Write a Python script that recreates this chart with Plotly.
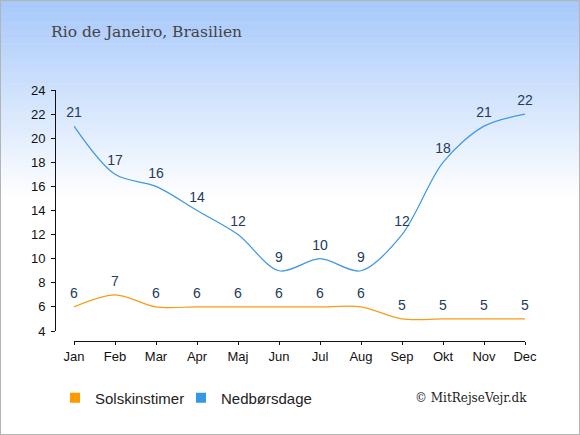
import plotly.graph_objects as go

months = ["Jan", "Feb", "Mar", "Apr", "Maj", "Jun", "Jul", "Aug", "Sep", "Okt", "Nov", "Dec"]
sunshine = [6, 7, 6, 6, 6, 6, 6, 6, 5, 5, 5, 5]
rain_days = [21, 17, 16, 14, 12, 9, 10, 9, 12, 18, 21, 22]
y_ticks = [4, 6, 8, 10, 12, 14, 16, 18, 20, 22, 24]

W, H = 580, 435
ORANGE = "#f79c16"
BLUE = "#3d97e6"
LABEL = "#233a5c"
x_idx = list(range(len(months)))

fig = go.Figure()

for vals, col in ((sunshine, ORANGE), (rain_days, BLUE)):
    fig.add_trace(go.Scatter(
        x=x_idx, y=vals, mode="lines+markers+text", text=[str(v) for v in vals],
        textposition="top center", textfont=dict(family="Liberation Sans, Arial", size=14, color=LABEL),
        line=dict(color=col, width=1.2, shape="spline", smoothing=0.9),
        marker=dict(size=7, opacity=0),
        showlegend=False, hoverinfo="skip", cliponaxis=False))

# legend entries
fig.add_trace(go.Scatter(x=[None], y=[None], mode="markers", name="Solskinstimer", legend="legend",
                         marker=dict(symbol="square", size=10, color="#ff9900")))
fig.add_trace(go.Scatter(x=[None], y=[None], mode="markers", name="Nedbørsdage", legend="legend2",
                         marker=dict(symbol="square", size=10, color="#3399e6")))

# background gradient
shapes = []
n = 60
top_px = 200.0
c0 = (166, 200, 250)
for i in range(n):
    t = i / (n - 1)
    r = int(round(c0[0] + (255 - c0[0]) * t))
    g = int(round(c0[1] + (255 - c0[1]) * t))
    b = int(round(c0[2] + (255 - c0[2]) * t))
    y1 = 1 - (i * top_px / n) / H
    y0 = 1 - ((i + 1) * top_px / n + 0.5) / H
    shapes.append(dict(type="rect", xref="paper", yref="paper", x0=0, x1=1, y0=y0, y1=y1,
                       fillcolor=f"rgb({r},{g},{b})", line=dict(width=0), layer="below"))
shapes.append(dict(type="rect", xref="paper", yref="paper", x0=0, x1=1, y0=0, y1=1,
                   line=dict(color="#b4b4b4", width=2), fillcolor="rgba(0,0,0,0)", layer="above"))

legend_common = dict(orientation="h", y=1 - 398 / H, xanchor="left", yanchor="middle",
                     font=dict(size=15, color="#222"), bgcolor="rgba(0,0,0,0)", itemclick=False)

fig.update_layout(
    width=W, height=H,
    margin=dict(l=0, r=0, t=0, b=0, autoexpand=False),
    paper_bgcolor="white", plot_bgcolor="rgba(0,0,0,0)",
    shapes=shapes,
    font=dict(family="Liberation Sans, Arial", size=13, color="#222"),
    xaxis=dict(domain=[74 / W, 525 / W], range=[0, 11], tickvals=x_idx, ticktext=months,
               showgrid=False, zeroline=False, showline=True, linecolor="#111", linewidth=1,
               ticks="outside", ticklen=3, tickcolor="#111", anchor="free", automargin=False,
               position=1 - 341 / H, tickfont=dict(size=13, color="#111")),
    yaxis=dict(domain=[1 - 331 / H, 1 - 90 / H], range=[4, 24], tickvals=y_ticks,
               showgrid=False, zeroline=False, showline=True, linecolor="#111", linewidth=1,
               ticks="outside", ticklen=4, tickcolor="#111", anchor="free", automargin=False,
               ticklabelstandoff=3,
               position=55 / W, tickfont=dict(size=13, color="#111")),
    legend=dict(x=55 / W, **legend_common),
    legend2=dict(x=181 / W, **legend_common),
    annotations=[
        dict(text="Rio de Janeiro, Brasilien", xref="paper", yref="paper", x=49 / W, y=1 - 32 / H,
             xanchor="left", yanchor="middle", showarrow=False,
             font=dict(family="DejaVu Serif", size=15.5, color="#444")),
        dict(text="© MitRejseVejr.dk", xref="paper", yref="paper", x=529 / W, y=1 - 398 / H,
             xanchor="right", yanchor="middle", showarrow=False,
             font=dict(family="DejaVu Serif", size=12, color="#222")),
    ],
)

fig.write_html("out.html", config={"displayModeBar": False},
               post_script="document.body.style.margin='0px';document.body.style.overflow='hidden';")
